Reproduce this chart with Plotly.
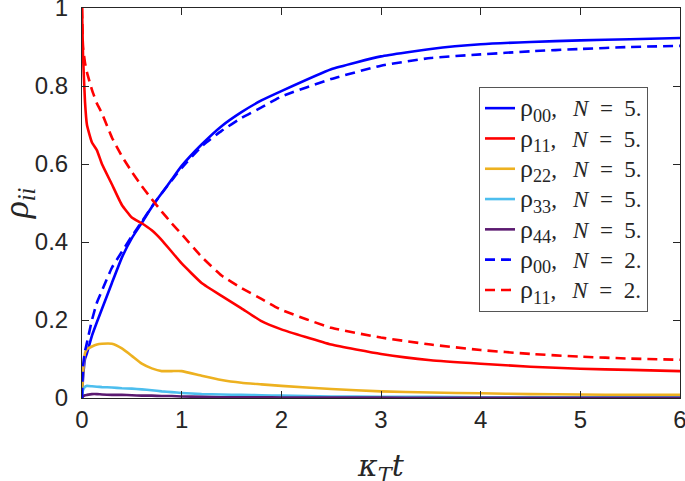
import plotly.graph_objects as go

t = [0, 0.01, 0.03, 0.05, 0.1, 0.15, 0.2, 0.3, 0.4, 0.5, 0.6, 0.7, 0.8, 0.9, 1.0,
     1.2, 1.4, 1.6, 1.8, 2.0, 2.5, 3.0, 3.5, 4.0, 4.5, 5.0, 5.5, 6.0]

rho00_N5 = [0, 0.05, 0.10, 0.115, 0.16, 0.195, 0.228, 0.295, 0.36, 0.41, 0.449, 0.49, 0.525, 0.56, 0.595,
            0.65, 0.697, 0.733, 0.763, 0.787, 0.843, 0.876, 0.895, 0.907, 0.913, 0.917, 0.920, 0.923]
rho11_N5 = [1, 0.88, 0.76, 0.70, 0.655, 0.635, 0.60, 0.548, 0.495, 0.463, 0.448, 0.43, 0.405, 0.375, 0.345,
            0.295, 0.262, 0.23, 0.197, 0.176, 0.137, 0.113, 0.097, 0.088, 0.080, 0.075, 0.072, 0.069]
rho22_N5 = [0, 0.06, 0.115, 0.125, 0.132, 0.137, 0.139, 0.139, 0.127, 0.108, 0.088, 0.076, 0.069, 0.069, 0.069,
            0.057, 0.046, 0.039, 0.035, 0.031, 0.023, 0.017, 0.014, 0.012, 0.010, 0.009, 0.008, 0.008]
rho33_N5 = [0, 0.02, 0.029, 0.031, 0.030, 0.029, 0.028, 0.027, 0.025, 0.024, 0.022, 0.020, 0.017, 0.015, 0.013,
            0.010, 0.009, 0.008, 0.007, 0.006, 0.004, 0.003, 0.003, 0.002, 0.002, 0.002, 0.002, 0.002]
rho44_N5 = [0, 0.004, 0.007, 0.008, 0.010, 0.010, 0.009, 0.008, 0.008, 0.007, 0.006, 0.006, 0.005, 0.005, 0.004,
            0.003, 0.002, 0.002, 0.002, 0.001, 0.001, 0.001, 0.0005, 0.0005, 0.0005, 0.0005, 0.0005, 0.0005]
rho00_N2 = [0, 0.08, 0.12, 0.142, 0.20, 0.245, 0.275, 0.334, 0.375, 0.415, 0.452, 0.49, 0.525, 0.558, 0.59,
            0.645, 0.685, 0.718, 0.745, 0.773, 0.818, 0.852, 0.872, 0.881, 0.889, 0.895, 0.900, 0.903]
rho11_N2 = [1, 0.9, 0.86, 0.835, 0.79, 0.755, 0.73, 0.668, 0.62, 0.58, 0.543, 0.51, 0.478, 0.448, 0.42,
            0.362, 0.314, 0.282, 0.254, 0.226, 0.18, 0.155, 0.137, 0.123, 0.113, 0.106, 0.101, 0.098]

en, th = "\u2002", "\u2009"


def label(idx, n):
    return (f'<span style="font-size:23px"><span style="font-size:26px">ρ<sub>{idx}</sub></span>,'
            f'{en}{th}<i>N</i>{en}={en}{n}.</span>')


series = [
    (rho00_N5, label("00", 5), "#0000FF", "solid"),
    (rho11_N5, label("11", 5), "#FF0000", "solid"),
    (rho22_N5, label("22", 5), "#EDB120", "solid"),
    (rho33_N5, label("33", 5), "#4DBEEE", "solid"),
    (rho44_N5, label("44", 5), "#5B1A70", "solid"),
    (rho00_N2, label("00", 2), "#0000FF", "10px,6px"),
    (rho11_N2, label("11", 2), "#FF0000", "10px,6px"),
]

fig = go.Figure()
for y, name, color, dash in series:
    fig.add_trace(go.Scatter(x=t, y=y, mode="lines", name=name,
                             line=dict(color=color, width=2.6, dash=dash, shape="spline", smoothing=0.4)))

axis_common = dict(showgrid=False, zeroline=False, showline=True, linecolor="#262626", linewidth=1,
                   mirror="allticks", ticks="inside", ticklen=7, tickcolor="#262626",
                   ticklabeloverflow="allow", automargin=False,
                   tickfont=dict(family="Liberation Sans, Arial", size=24, color="#262626"))

fig.update_xaxes(range=[0, 6], tickvals=[0, 1, 2, 3, 4, 5, 6], ticktext=["0", "1", "2", "3", "4", "5", "6"],
                 **axis_common)
fig.update_yaxes(range=[0, 1], tickvals=[0, 0.2, 0.4, 0.6, 0.8, 1], ticktext=["0", "0.2", "0.4", "0.6", "0.8", "1"],
                 ticklabelstandoff=8,
                 **axis_common)

W, H = 685, 481
ML, MR, MT, MB = 82, 5, 8, 83
PLOT_W = W - ML - MR
PLOT_H = H - MT - MB

fig.add_annotation(text="<i>κ<sub>T</sub>t</i>", xref="paper", yref="paper",
                   x=0.5, y=-(467 - 398) / PLOT_H, xanchor="center", yanchor="middle",
                   showarrow=False, font=dict(family="DejaVu Serif", size=30, color="#262626"))
fig.add_annotation(text="<i>ρ<sub>ii</sub></i>", xref="paper", yref="paper",
                   x=(18 - ML) / PLOT_W, y=0.5, xanchor="center", yanchor="middle", textangle=-90,
                   showarrow=False, font=dict(family="Liberation Serif", size=35, color="#262626"))

fig.update_layout(
    width=W, height=H,
    margin=dict(l=ML, r=MR, t=MT, b=MB, autoexpand=False),
    plot_bgcolor="white", paper_bgcolor="white",
    legend=dict(x=(479 - ML) / PLOT_W, y=(398 - 87) / PLOT_H, xanchor="left", yanchor="top",
                bgcolor="white", bordercolor="#555555", borderwidth=1,
                font=dict(family="Liberation Serif", size=21, color="#262626"),
                tracegroupgap=0),
    showlegend=True,
)

fig.write_html("out.html", config={"displayModeBar": False},
               post_script="document.body.style.margin='0';")
